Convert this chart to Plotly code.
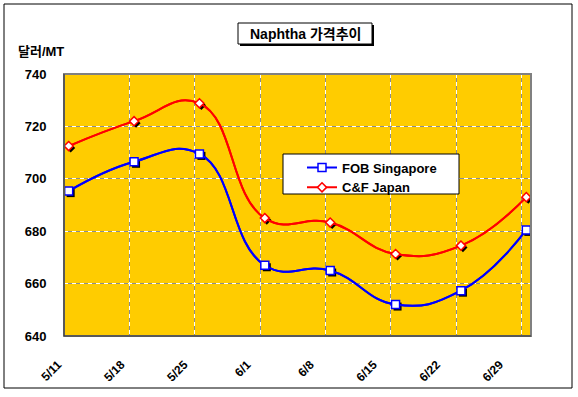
import plotly.graph_objects as go
import pandas as pd

# ---- data ----
dates = ['2007-05-11', '2007-05-18', '2007-05-25', '2007-06-01',
         '2007-06-08', '2007-06-15', '2007-06-22', '2007-06-29']
tick_labels = ['5/11', '5/18', '5/25', '6/1', '6/8', '6/15', '6/22', '6/29']
fob_singapore = [695.3, 706.5, 709.5, 667.0, 665.0, 652.0, 657.3, 680.5]
cf_japan = [712.5, 722.0, 728.8, 685.0, 683.3, 671.3, 674.5, 693.0]
y_ticks = [640, 660, 680, 700, 720, 740]

# ---- layout geometry ----
W, H = 578, 397
L, R, T, B = 64, 531, 74, 336
PW, PH = R - L, B - T
X0, X1 = pd.Timestamp('2007-05-11'), pd.Timestamp('2007-06-30')
Y0, Y1 = 640, 740
day_px = PW / ((X1 - X0).days)
sh = 2  # shadow offset px
dx = pd.Timedelta(seconds=round(86400 * sh / day_px))
dy = sh * (Y1 - Y0) / PH
# category-label axis: labels are spaced a little tighter than the grid
label_px_per_week = 63.1
LX0 = X0 - pd.Timedelta(minutes=15)
LX1 = X0 + pd.Timedelta(seconds=round(86400 * 7 * PW / label_px_per_week))

def xp(px):
    return (px - L) / PW

def yp(py):
    return (B - py) / PH

def ds(ts):
    return ts.strftime('%Y-%m-%d %H:%M:%S')

FONT = "Arial, 'Liberation Sans', 'Noto Sans CJK KR', sans-serif"
DAY_MS = 86400000
SMOOTH = 1.3
COLORS = {'FOB Singapore': '#0000FF', 'C&F Japan': '#FF0000'}
SYMBOLS = {'FOB Singapore': ('square', 8), 'C&F Japan': ('diamond', 7)}
series = [('FOB Singapore', fob_singapore), ('C&F Japan', cf_japan)]

fig = go.Figure()

# base lines (xy subplot)
for name, vals in series:
    fig.add_trace(go.Scatter(
        x=dates, y=vals, mode='lines', xaxis='x', yaxis='y',
        xperiod=DAY_MS, xperiodalignment='middle',
        line=dict(color=COLORS[name], width=2, shape='spline', smoothing=SMOOTH),
        showlegend=False, hoverinfo='skip'))

# carrier for the label axis (invisible)
fig.add_trace(go.Scatter(
    x=dates, y=fob_singapore, mode='markers', xaxis='x4', yaxis='y',
    marker=dict(opacity=0, size=1), showlegend=False, hoverinfo='skip'))

# marker shadows
for name, vals in series:
    sym, sz = SYMBOLS[name]
    fig.add_trace(go.Scatter(
        x=dates, y=vals, mode='markers', xaxis='x2', yaxis='y2',
        xperiod=DAY_MS, xperiodalignment='middle',
        marker=dict(symbol=sym, size=sz, color='black', line=dict(width=0)),
        showlegend=False, hoverinfo='skip'))

# main series
for name, vals in series:
    sym, sz = SYMBOLS[name]
    fig.add_trace(go.Scatter(
        x=dates, y=vals, name=name, mode='lines+markers',
        xaxis='x3', yaxis='y3', xperiod=DAY_MS, xperiodalignment='middle',
        line=dict(color=COLORS[name], width=2, shape='spline', smoothing=SMOOTH),
        marker=dict(symbol=sym, size=sz, color='white',
                    line=dict(color=COLORS[name], width=1.5))))

tickfont = dict(family=FONT, size=13, color='black', weight='bold')

fig.update_layout(
    width=W, height=H,
    margin=dict(l=L, r=W - R, t=T, b=H - B),
    paper_bgcolor='white', plot_bgcolor='#FFCC00',
    xaxis=dict(type='date', range=[ds(X0), ds(X1)], tickmode='array',
               tickvals=dates, showticklabels=False,
               showgrid=True, gridcolor='#8c8c8c', gridwidth=1,
               ticks='', showline=False, zeroline=False),
    xaxis4=dict(type='date', overlaying='x', anchor='y', side='bottom',
                range=[ds(LX0), ds(LX1)], tickmode='array',
                tickvals=dates, ticktext=tick_labels, tickangle=-45,
                tickfont=dict(family=FONT, size=12, color='black', weight='bold'),
                showgrid=False, ticks='outside', ticklen=16, tickcolor='rgba(0,0,0,0)',
                ticklabelshift=-6, showline=False, zeroline=False),
    yaxis=dict(range=[Y0, Y1], tickmode='array', tickvals=y_ticks, tickfont=tickfont,
               showgrid=True, gridcolor='#8c8c8c', gridwidth=1,
               ticks='outside', ticklen=14, tickcolor='rgba(0,0,0,0)',
               showline=False, zeroline=False),
    xaxis2=dict(type='date', overlaying='x', range=[ds(X0 - dx), ds(X1 - dx)], visible=False),
    yaxis2=dict(overlaying='y', range=[Y0 + dy, Y1 + dy], visible=False),
    xaxis3=dict(type='date', overlaying='x', range=[ds(X0), ds(X1)], tickmode='array',
                tickvals=dates, showticklabels=False, ticks='', showgrid=True,
                gridcolor='white', griddash='4px,4px', zeroline=False, showline=False),
    yaxis3=dict(overlaying='y', range=[Y0, Y1], tickmode='array', tickvals=y_ticks,
                showticklabels=False, ticks='', showgrid=True, gridcolor='white',
                griddash='4px,4px', zeroline=False, showline=False),
    legend=dict(x=xp(302), y=yp(152.5), xanchor='left', yanchor='top',
                bgcolor='rgba(0,0,0,0)', borderwidth=0,
                font=dict(family=FONT, size=13, color='black', weight='bold'),
                tracegroupgap=0),
    showlegend=True,
)

shapes = [
    dict(type='rect', xref='paper', yref='paper', x0=xp(4), x1=xp(572), y0=yp(4), y1=yp(388),
         line=dict(color='black', width=1), layer='above'),
    dict(type='rect', xref='paper', yref='paper', x0=0, x1=1, y0=0, y1=1,
         line=dict(color='#808080', width=2), layer='above'),
    dict(type='line', xref='paper', yref='paper', x0=0, x1=0, y0=0, y1=1,
         line=dict(color='#333333', width=1), layer='above'),
    dict(type='line', xref='paper', yref='paper', x0=0, x1=1, y0=0, y1=0,
         line=dict(color='#333333', width=1), layer='above'),
    dict(type='rect', xref='paper', yref='paper', x0=xp(283), x1=xp(459), y0=yp(194), y1=yp(154),
         fillcolor='white', line=dict(color='black', width=1), layer='above'),
    dict(type='rect', xref='paper', yref='paper', x0=xp(240), x1=xp(374), y0=yp(46), y1=yp(25),
         fillcolor='black', line=dict(width=0), layer='above'),
    dict(type='rect', xref='paper', yref='paper', x0=xp(238), x1=xp(372), y0=yp(44), y1=yp(23),
         fillcolor='white', line=dict(color='black', width=1), layer='above'),
]
fig.update_layout(shapes=shapes)

fig.add_annotation(text='Naphtha 가격추이', xref='paper', yref='paper',
                   x=xp(305), y=yp(33.5), xanchor='center', yanchor='middle',
                   showarrow=False, font=dict(family=FONT, size=14, color='black', weight='bold'))
fig.add_annotation(text='달러/MT', xref='paper', yref='paper',
                   x=xp(16), y=yp(51), xanchor='left', yanchor='middle',
                   showarrow=False, font=dict(family=FONT, size=13, color='black', weight='bold'))

fig.write_html('out.html')
